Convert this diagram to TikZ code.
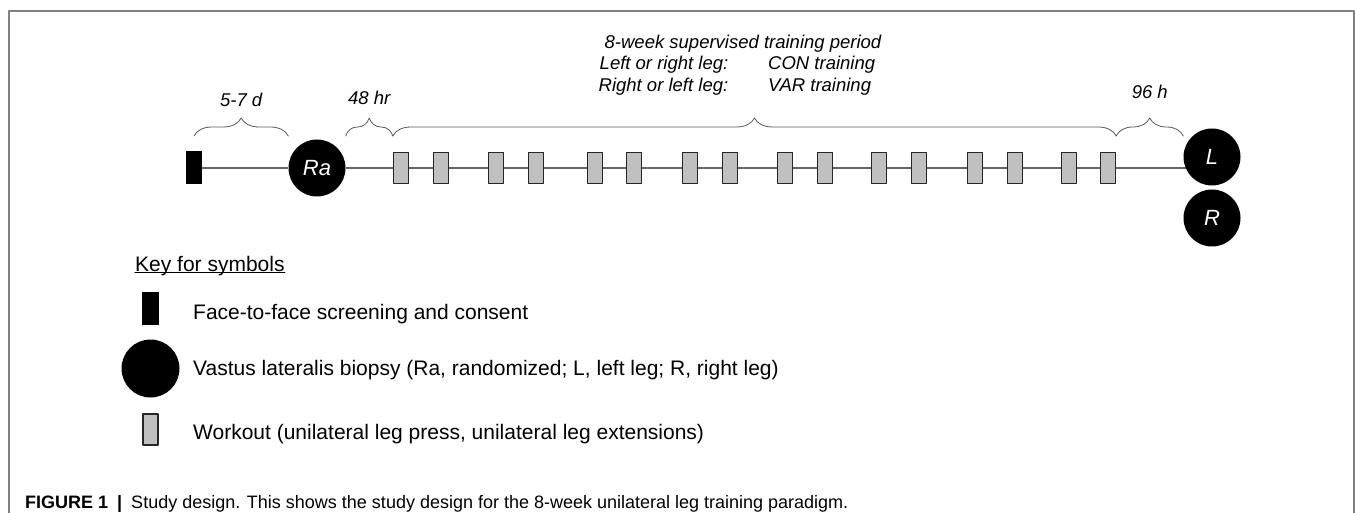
\documentclass[tikz,border=0pt]{standalone}
\usepackage{fontspec}
\setmainfont{Liberation Sans}
\usetikzlibrary{decorations.pathreplacing,backgrounds}
\definecolor{rulegray}{HTML}{808080}
\definecolor{boxgray}{HTML}{C0C0C0}
\begin{document}
\begin{tikzpicture}[x=1pt, y=-1pt, line join = round, line cap = round,
	screen/.style={fill=black, minimum width=16pt, minimum height=33pt, inner sep=0pt},
	workout/.style={draw=black!85, line width=1.4pt, fill=boxgray, minimum width=15pt, minimum height=31pt, inner sep=0pt},
	biopsy/.style={circle, fill=black, minimum size=57pt, inner sep=0pt, text=white, font=\fontsize{22}{26}\selectfont\itshape},
	timebrace/.style={decorate, decoration={brace, amplitude=18pt, aspect=.5}, draw=black!65, line width=.8pt},
	lbl/.style={font=\fontsize{18.5}{21.5}\selectfont\itshape, inner sep=0pt},
	keytext/.style={font=\fontsize{21}{25}\selectfont, anchor=base west, inner sep=0pt}]
		\useasboundingbox (0,0) rectangle (1355,513);
		\draw[rulegray, line width=1.5pt] (9,513) -- (9,11) -- (1354,11) -- (1354,513);
		\def\ty{168}
		\coordinate (brc) at (0,136);
		\node[screen] (scr) at (194,\ty) {};
		\node[biopsy] (ra) at (317,\ty) {Ra};
		\node[biopsy] (lbio) at (1212,157) {L};
		\node[biopsy] (rbio) at (1212,218) {R};
		\foreach \x [count=\i] in {401,441,496,536,595,634,690,730,785,825,879,919,975,1015,1069,1108}
			\node[workout] (w\i) at (\x,\ty) {};
		\begin{scope}[on background layer]
			\draw[black!60, line width=1.3pt] (scr) -- (ra) -- (ra -| lbio);
		\end{scope}
		\draw[timebrace] (scr |- brc) -- (ra.west |- brc) node[lbl, midway, above=29pt]{5-7 d};
		\draw[timebrace] (ra.east |- brc) -- (w1.west |- brc) node[lbl, midway, above=31pt]{48 hr};
		\draw[timebrace] (w1.west |- brc) -- (w16.east |- brc);
		\draw[timebrace] (w16.east |- brc) -- (lbio.west |- brc) node[lbl, midway, above=37pt]{96 h};
		\node[lbl] (period) at (743,65.5) {\begin{tabular}{@{}r@{\hspace{40pt}}l@{}}
			\multicolumn{2}{c}{8-week supervised training period}\\
			Left or right leg: & CON training\\
			Right or left leg: & VAR training
		\end{tabular}};
		% key
		\node[keytext] (key) at (135,271) {Key for symbols};
		\draw[line width=1.1pt] ([yshift=-1.5pt]key.base west) -- ([yshift=-1.5pt]key.base east);
		\node[screen, minimum width=17pt] (kscr) at (150.5,308.5) {};
		\node[keytext] (kscrtxt) at (193,319.5) {Face-to-face screening and consent};
		\node[biopsy, minimum size=58pt] (kbio) at (150.5,368.5) {};
		\node[keytext] (kbiotxt) at (193,375.5) {Vastus lateralis biopsy (Ra, randomized; L, left leg; R, right leg)};
		\node[workout] (kwork) at (150.5,429.5) {};
		\node[keytext] (kworktxt) at (193,439.5) {Workout (unilateral leg press, unilateral leg extensions)};
		\node[anchor=base west, inner sep=0pt, font=\fontsize{18}{21}\selectfont] (cap) at (25,508.5)
			{\textbf{FIGURE 1}\enspace\textbf{|}\enspace Study design. This shows the study design for the 8-week unilateral leg training paradigm.};
	\end{tikzpicture}
\end{document}
